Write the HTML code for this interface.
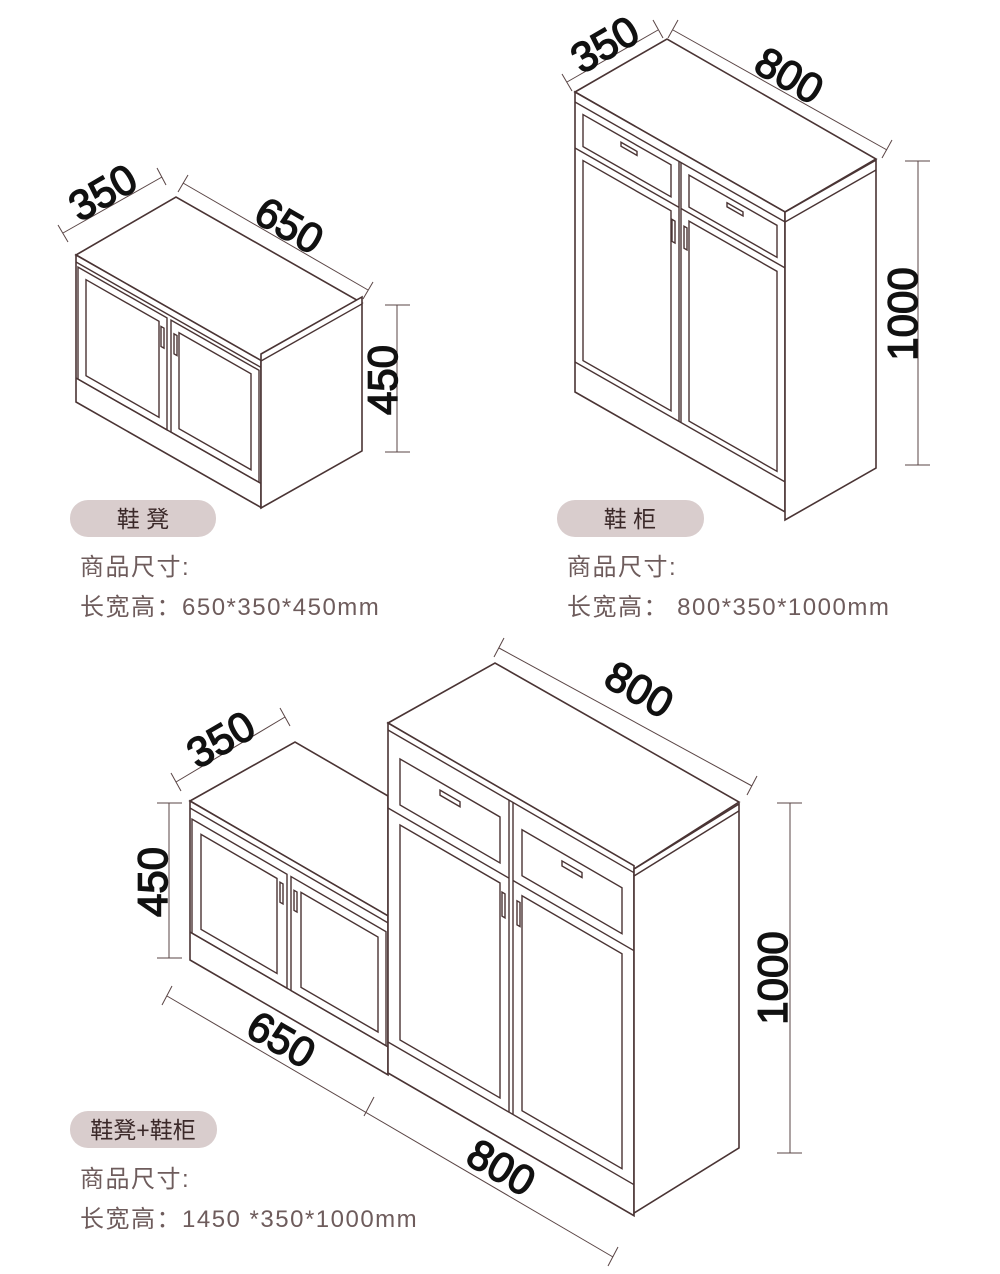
<!DOCTYPE html>
<html><head><meta charset="utf-8"><style>
html,body{margin:0;padding:0;background:#fff;}
svg{display:block}
.l{fill:#fff;stroke:#4a3434;stroke-width:1.6;vector-effect:non-scaling-stroke}
.n{fill:none;stroke:#4a3434;stroke-width:1.4;vector-effect:non-scaling-stroke}
.d{fill:none;stroke:#5a4545;stroke-width:1;}
.num{font-family:"Liberation Sans",sans-serif;font-size:42px;fill:#111;stroke:#111;stroke-width:1.4;}
.pill{fill:#d9cdcd}
.pt{font-family:"Liberation Sans","Noto Sans CJK SC",sans-serif;font-size:23px;fill:#3a2828}
.tx{font-family:"Liberation Sans","Noto Sans CJK SC",sans-serif;font-size:24px;letter-spacing:1.5px;fill:#6e5c5c}
</style></head><body>
<svg width="1000" height="1274" viewBox="0 0 1000 1274">
<!-- ===== Cabinet 1 ===== -->
<polygon class="l" points="76,255 176,197 362,303 261,361"/>
<g transform="matrix(1,0.57,0,1,76,262)">
<rect class="l" x="0" y="-7" width="185" height="147"/>
<line class="n" x1="0" y1="0" x2="185" y2="0"/>
<line class="n" x1="0" y1="116" x2="185" y2="116"/>
<rect class="n" x="2" y="4" width="89" height="112"/>
<rect class="n" x="10" y="12" width="73" height="96"/>
<rect class="n" x="95" y="4" width="88" height="112"/>
<rect class="n" x="103" y="12" width="72" height="96"/>
<rect class="n" x="85" y="16" width="3" height="20"/>
<rect class="n" x="98" y="16" width="3" height="20"/>
</g>
<g transform="matrix(1,-0.565,0,1,261,354)">
<rect class="l" x="0" y="0" width="101" height="154"/>
<line class="n" x1="0" y1="7" x2="101" y2="7"/>
</g>
<line class="d" x1="63" y1="233" x2="162" y2="177"/><line class="d" x1="58" y1="225" x2="68" y2="242"/><line class="d" x1="157" y1="168" x2="166" y2="185"/>
<line class="d" x1="183" y1="183" x2="368" y2="290"/><line class="d" x1="188" y1="175" x2="178" y2="192"/><line class="d" x1="373" y1="282" x2="363" y2="299"/>
<line class="d" x1="397" y1="305" x2="397" y2="452"/><line class="d" x1="385" y1="305" x2="410" y2="305"/><line class="d" x1="385" y1="452" x2="410" y2="452"/>
<text class="num" transform="translate(110,205) rotate(-30)" text-anchor="middle">350</text>
<text class="num" transform="translate(282,238) rotate(30)" text-anchor="middle">650</text>
<text class="num" transform="translate(397,380) rotate(-90)" text-anchor="middle">450</text>
<!-- ===== Cabinet 2 ===== -->
<polygon class="l" points="575,92 667,39 876,159 785,212"/>
<g transform="matrix(1,0.571,0,1,575,92)">
<rect class="l" x="0" y="0" width="210" height="300"/>
<line class="n" x1="0" y1="10" x2="210" y2="10"/>
<line class="n" x1="0" y1="56" x2="104" y2="56"/><line class="n" x1="106" y1="56" x2="210" y2="56"/>
<rect class="n" x="8" y="18" width="88" height="32"/>
<rect class="n" x="114" y="18" width="88" height="32"/>
<rect class="n" x="46" y="24" width="16" height="4"/>
<rect class="n" x="152" y="24" width="16" height="4"/>
<line class="n" x1="104" y1="10" x2="104" y2="270"/><line class="n" x1="106" y1="10" x2="106" y2="270"/>
<rect class="n" x="8" y="64" width="88" height="200"/>
<rect class="n" x="114" y="64" width="88" height="200"/>
<rect class="n" x="97" y="72" width="3" height="22"/>
<rect class="n" x="109" y="72" width="3" height="22"/>
<line class="n" x1="0" y1="270" x2="210" y2="270"/>
</g>
<g transform="matrix(1,-0.571,0,1,785,212)">
<rect class="l" x="0" y="0" width="91" height="308"/>
<line class="n" x1="0" y1="10" x2="91" y2="10"/>
</g>
<line class="d" x1="567" y1="82" x2="658" y2="30"/><line class="d" x1="562" y1="74" x2="572" y2="91"/><line class="d" x1="653" y1="20" x2="663" y2="38"/>
<line class="d" x1="673" y1="30" x2="887" y2="150"/><line class="d" x1="678" y1="20" x2="668" y2="38"/><line class="d" x1="892" y1="140" x2="882" y2="158"/>
<line class="d" x1="918" y1="161" x2="918" y2="465"/><line class="d" x1="905" y1="161" x2="930" y2="161"/><line class="d" x1="905" y1="465" x2="930" y2="465"/>
<text class="num" transform="translate(612,57) rotate(-30)" text-anchor="middle">350</text>
<text class="num" transform="translate(782,88) rotate(30)" text-anchor="middle">800</text>
<text class="num" transform="translate(917,314) rotate(-90)" text-anchor="middle">1000</text>
<!-- ===== Combo ===== -->
<polygon class="l" points="190,801 295,742 388,796 388,916"/>
<g transform="matrix(1,0.58,0,1,190,808)">
<rect class="l" x="0" y="-7" width="198" height="159"/>
<line class="n" x1="0" y1="0" x2="198" y2="0"/>
<line class="n" x1="0" y1="124" x2="198" y2="124"/>
<rect class="n" x="2" y="10" width="95" height="114"/>
<rect class="n" x="11" y="20" width="76" height="95"/>
<rect class="n" x="101" y="10" width="95" height="114"/>
<rect class="n" x="111" y="20" width="77" height="95"/>
<rect class="n" x="90" y="22" width="3" height="20"/>
<rect class="n" x="104" y="22" width="3" height="20"/>
</g>
<polygon class="l" points="388,723 495,663 739,802 634,869"/>
<g transform="matrix(1,0.58,0,1,388,730)">
<rect class="l" x="0" y="-7" width="246" height="350"/>
<line class="n" x1="0" y1="0" x2="246" y2="0"/>
<rect class="n" x="12" y="22" width="100" height="46"/>
<rect class="n" x="134" y="22" width="100" height="46"/>
<rect class="n" x="52" y="30" width="20" height="5"/>
<rect class="n" x="174" y="30" width="20" height="5"/>
<line class="n" x1="0" y1="78" x2="121" y2="78"/><line class="n" x1="125" y1="78" x2="246" y2="78"/>
<line class="n" x1="121" y1="0" x2="121" y2="312"/><line class="n" x1="125" y1="0" x2="125" y2="312"/>
<rect class="n" x="12" y="88" width="100" height="215"/>
<rect class="n" x="134" y="88" width="100" height="215"/>
<rect class="n" x="114" y="96" width="3" height="24"/>
<rect class="n" x="129" y="96" width="3" height="24"/>
<line class="n" x1="0" y1="312" x2="246" y2="312"/>
</g>
<g transform="matrix(1,-0.62,0,1,634,869)">
<rect class="l" x="0" y="0" width="105" height="344"/>
<line class="n" x1="0" y1="7" x2="105" y2="7"/>
</g>
<line class="d" x1="176" y1="782" x2="285" y2="717"/><line class="d" x1="171" y1="773" x2="181" y2="791"/><line class="d" x1="280" y1="708" x2="290" y2="726"/>
<line class="d" x1="499" y1="648" x2="752" y2="786"/><line class="d" x1="504" y1="638" x2="494" y2="657"/><line class="d" x1="757" y1="776" x2="747" y2="795"/>
<line class="d" x1="169" y1="803" x2="169" y2="958"/><line class="d" x1="157" y1="803" x2="182" y2="803"/><line class="d" x1="157" y1="958" x2="182" y2="958"/>
<line class="d" x1="167" y1="996" x2="613" y2="1257"/><line class="d" x1="172" y1="986" x2="162" y2="1005"/><line class="d" x1="374" y1="1097" x2="364" y2="1116"/><line class="d" x1="618" y1="1247" x2="608" y2="1266"/>
<line class="d" x1="790" y1="803" x2="790" y2="1153"/><line class="d" x1="777" y1="803" x2="802" y2="803"/><line class="d" x1="777" y1="1153" x2="802" y2="1153"/>
<text class="num" transform="translate(228,752) rotate(-30)" text-anchor="middle">350</text>
<text class="num" transform="translate(632,702) rotate(30)" text-anchor="middle">800</text>
<text class="num" transform="translate(167,882) rotate(-90)" text-anchor="middle">450</text>
<text class="num" transform="translate(274,1052) rotate(30)" text-anchor="middle">650</text>
<text class="num" transform="translate(494,1180) rotate(30)" text-anchor="middle">800</text>
<text class="num" transform="translate(787,978) rotate(-90)" text-anchor="middle">1000</text>
<!-- labels -->
<rect class="pill" x="70" y="500" width="146" height="37" rx="18"/>
<text class="pt" x="143" y="527" text-anchor="middle">鞋 凳</text>
<text class="tx" x="80" y="575">商品尺寸:</text>
<text class="tx" x="80" y="615">长宽高：650*350*450mm</text>
<rect class="pill" x="557" y="500" width="147" height="37" rx="18"/>
<text class="pt" x="630" y="527" text-anchor="middle">鞋 柜</text>
<text class="tx" x="567" y="575">商品尺寸:</text>
<text class="tx" x="567" y="615">长宽高：  800*350*1000mm</text>
<rect class="pill" x="70" y="1111" width="147" height="37" rx="18"/>
<text class="pt" x="143" y="1138" text-anchor="middle">鞋凳+鞋柜</text>
<text class="tx" x="80" y="1187">商品尺寸:</text>
<text class="tx" x="80" y="1227">长宽高：1450 *350*1000mm</text>
</svg>
</body></html>
